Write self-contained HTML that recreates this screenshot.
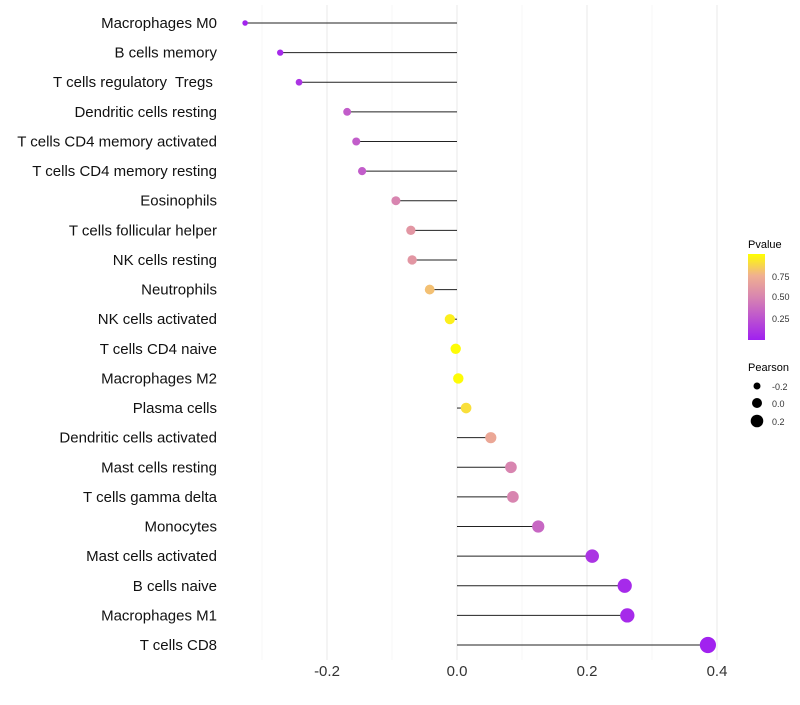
<!DOCTYPE html>
<html><head><meta charset="utf-8"><style>
body{margin:0;background:#fff;font-family:"Liberation Sans",sans-serif}
#ylab text{white-space:pre}
</style></head><body>
<svg id="chart" width="800" height="700" xmlns="http://www.w3.org/2000/svg" font-family="Liberation Sans, sans-serif">
<g id="grid"></g>
<g id="marks"></g>
<g id="ylab"></g>
<g id="xlab"></g>
<g id="legend">
<defs><linearGradient id="pg" x1="0" y1="1" x2="0" y2="0">
<stop offset="0" stop-color="#A020F0"/><stop offset="0.5" stop-color="#D885B0"/><stop offset="0.75" stop-color="#F0B090"/><stop offset="1" stop-color="#FFFF00"/></linearGradient></defs>
<text x="748" y="248" font-size="11">Pvalue</text>
<rect x="748" y="254" width="17" height="86" fill="url(#pg)"/>
<text x="772" y="280" font-size="9" fill="#333">0.75</text>
<text x="772" y="300" font-size="9" fill="#333">0.50</text>
<text x="772" y="322" font-size="9" fill="#333">0.25</text>
<text x="748" y="371" font-size="11">Pearson</text>
<circle cx="757" cy="386" r="3.5" fill="#000"/>
<text x="772" y="390" font-size="9" fill="#333">-0.2</text>
<circle cx="757" cy="403" r="5" fill="#000"/>
<text x="772" y="407" font-size="9" fill="#333">0.0</text>
<circle cx="757" cy="421" r="6.3" fill="#000"/>
<text x="772" y="425" font-size="9" fill="#333">0.2</text>
</g>
</svg>
<script>
const categories=["Macrophages M0","B cells memory","T cells regulatory  Tregs ","Dendritic cells resting","T cells CD4 memory activated","T cells CD4 memory resting","Eosinophils","T cells follicular helper","NK cells resting","Neutrophils","NK cells activated","T cells CD4 naive","Macrophages M2","Plasma cells","Dendritic cells activated","Mast cells resting","T cells gamma delta","Monocytes","Mast cells activated","B cells naive","Macrophages M1","T cells CD8"];
const pearson=[-0.326,-0.272,-0.243,-0.169,-0.155,-0.146,-0.094,-0.071,-0.069,-0.042,-0.011,-0.002,0.002,0.014,0.052,0.083,0.086,0.125,0.208,0.258,0.262,0.386];
const pvalue=[0.02,0.05,0.1,0.3,0.3,0.3,0.5,0.6,0.6,0.8,0.95,0.99,0.99,0.9,0.7,0.5,0.5,0.35,0.1,0.05,0.05,0.01];
const xTicks=[-0.2,0.0,0.2,0.4];
const xMinor=[-0.3,-0.1,0.1,0.3];
const NS="http://www.w3.org/2000/svg";
const xs=v=>457+v*650;
const ys=i=>23+i*(645-23)/(categories.length-1);
const rs=v=>3.7+(v+0.2)*7.5;
function lerp(a,b,t){return a.map((x,i)=>Math.round(x+(b[i]-x)*t));}
const stops=[[0,[160,32,240]],[0.5,[216,133,176]],[0.75,[240,176,144]],[1,[255,255,0]]];
function col(p){for(let i=1;i<stops.length;i++){if(p<=stops[i][0]){const t=(p-stops[i-1][0])/(stops[i][0]-stops[i-1][0]);const c=lerp(stops[i-1][1],stops[i][1],t);return `rgb(${c})`;}}return "rgb(255,255,0)";}
function mk(t,a,p){const e=document.createElementNS(NS,t);for(const k in a)e.setAttribute(k,a[k]);p.appendChild(e);return e;}
const grid=document.getElementById('grid'),marks=document.getElementById('marks'),ylab=document.getElementById('ylab'),xlab=document.getElementById('xlab');
xMinor.forEach(v=>{const l=mk('line',{x1:xs(v),x2:xs(v),y1:5,y2:660,stroke:"#f2f2f2","stroke-width":0.6},grid);

});
xTicks.forEach(v=>{const l=mk('line',{x1:xs(v),x2:xs(v),y1:5,y2:660,stroke:"#ebebeb","stroke-width":1.1},grid);


const t=mk('text',{x:xs(v),y:676,"text-anchor":"middle","font-size":15,fill:"#333"},xlab);
t.textContent=v.toFixed(1);

});
categories.forEach((c,i)=>{const y=ys(i);
const l=mk('line',{x1:xs(0),x2:xs(pearson[i]),y1:y,y2:y,stroke:"#222","stroke-width":1},marks);


const d=mk('circle',{cx:xs(pearson[i]),cy:y,r:rs(pearson[i]),fill:col(pvalue[i])},marks);


const t=mk('text',{x:217,y:y+5,"text-anchor":"end","font-size":15,fill:"#111"},ylab);
t.textContent=c;

});
</script>
</body></html>
